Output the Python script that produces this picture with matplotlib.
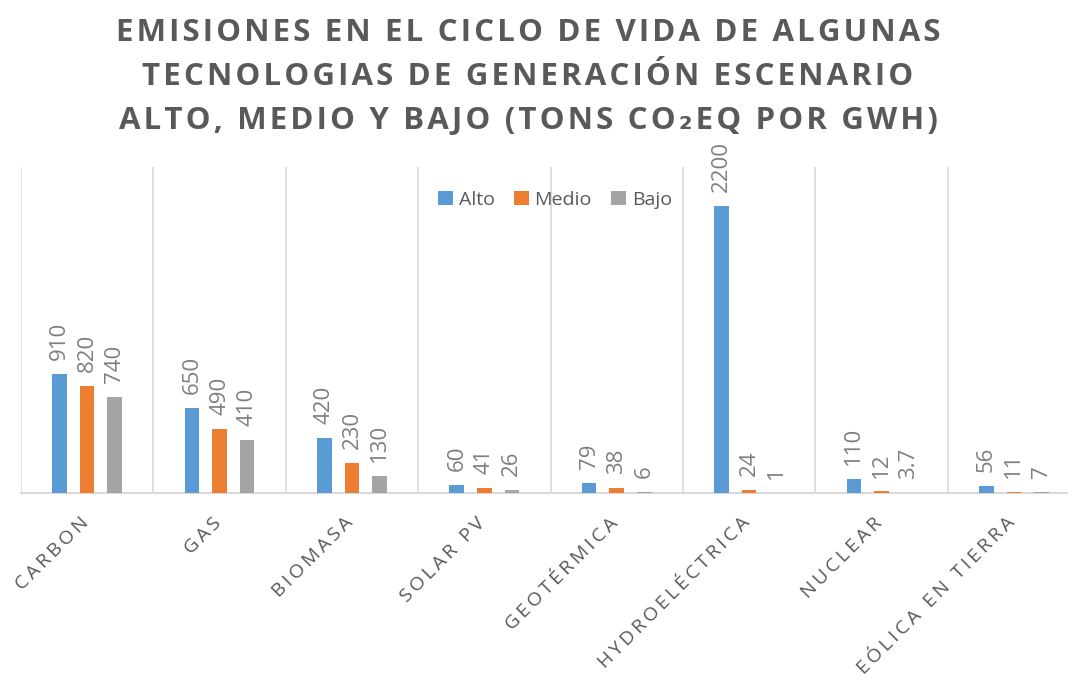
import matplotlib
matplotlib.use("Agg")
import matplotlib.pyplot as plt
from matplotlib.patches import Patch
from matplotlib.transforms import ScaledTranslation

categories = ["CARBON", "GAS", "BIOMASA", "SOLAR PV", "GEOTÉRMICA",
              "HYDROELÉCTRICA", "NUCLEAR", "EÓLICA EN TIERRA"]
alto = [910, 650, 420, 60, 79, 2200, 110, 56]
medio = [820, 490, 230, 41, 38, 24, 12, 11]
bajo = [740, 410, 130, 26, 6, 1, 3.7, 7]
series_names = ["Alto", "Medio", "Bajo"]
title_lines = ["EMISIONES EN EL CICLO DE VIDA DE ALGUNAS",
               "TECNOLOGIAS DE GENERACIÓN ESCENARIO",
               "ALTO, MEDIO Y BAJO (TONS CO\u2082EQ POR GWH)"]

colors = ["#5B9BD5", "#ED7D31", "#A5A5A5"]
FAM = ["Open Sans", "DejaVu Sans"]
W, H = 1068, 683
fig = plt.figure(figsize=(W / 100, H / 100), dpi=100)
ax = fig.add_axes([21 / W, (H - 493) / H, 1059 / W, 326 / H])


def spaced(s, sp):
    return sp.join(list(s))


x = list(range(len(categories)))
offs = [-0.208, 0.0, 0.208]
bw = 0.11
for s, (vals, col, off) in enumerate(zip([alto, medio, bajo], colors, offs)):
    xs = [i + off for i in x]
    ax.bar(xs, vals, width=bw, color=col, zorder=3)
    for xi, v in zip(xs, vals):
        ax.annotate(f"{v:g}", (xi, v), xytext=(0, 10), textcoords="offset points",
                    rotation=90, ha="center", va="bottom", fontsize=16,
                    color="#7f7f7f", family=FAM, annotation_clip=False)

ax.set_xlim(-0.5, len(categories) - 0.5)
ax.set_ylim(0, 2500)
for b in range(len(categories) + 1):
    ax.axvline(b - 0.5, color="#d9d9d9", lw=1.2, zorder=1)
for sp in ["top", "right", "left"]:
    ax.spines[sp].set_visible(False)
ax.spines["bottom"].set_color("#d9d9d9")
ax.spines["bottom"].set_linewidth(1.5)
ax.set_yticks([])
ax.set_xticks(x)
labels = ax.set_xticklabels([spaced(c, "\u2009") for c in categories], rotation=45,
                            ha="right", va="top", rotation_mode="anchor", fontsize=14,
                            color="#595959", family=FAM)
ax.tick_params(axis="x", length=0, pad=15)
shift = ScaledTranslation(-8 / 100, 0, fig.dpi_scale_trans)
for lab in labels:
    lab.set_transform(lab.get_transform() + shift)

handles = [Patch(facecolor=c, edgecolor="none") for c in colors]
fig.legend(handles, series_names, loc="center", bbox_to_anchor=(555 / W, 1 - 200 / H),
           ncol=3, frameon=False, handlelength=0.75, handleheight=0.75,
           handletextpad=0.3, columnspacing=1.0, labelcolor="#595959",
           prop={"family": FAM, "size": 14})

title = "\n".join(spaced(l, "\u200a") for l in title_lines)
fig.text(528 / W, 1 - 77 / H, title, ha="center", va="center", fontsize=22.5,
         fontweight="bold", color="#595959", family=FAM, linespacing=1.62)

fig.savefig("out.png", dpi=100)
